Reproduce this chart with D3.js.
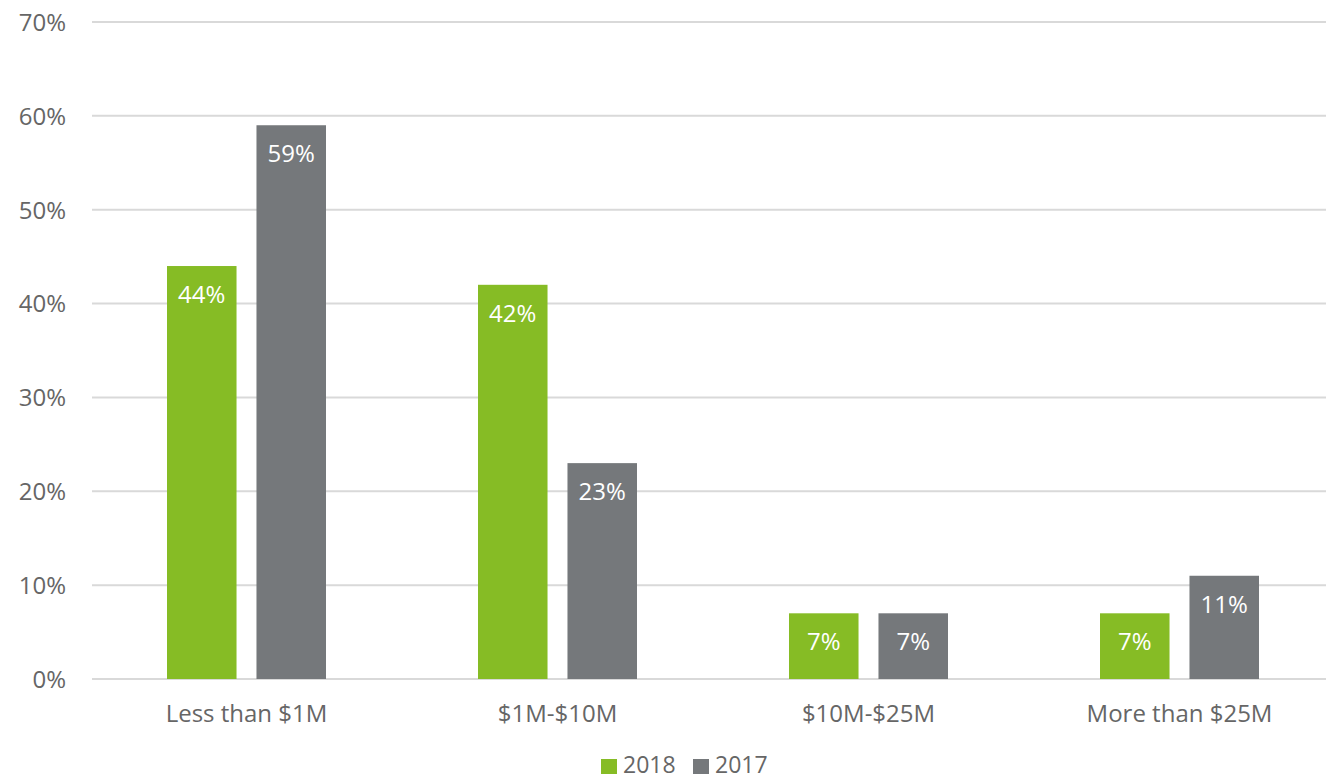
<!DOCTYPE html>
<html>
<head>
<meta charset="utf-8">
<script src="https://cdn.jsdelivr.net/npm/d3@7"></script>
<style>
  html, body { margin: 0; padding: 0; background: #fff; }
  svg { display: block; font-family: "Open Sans", sans-serif; }
</style>
</head>
<body>
<svg id="chart" width="1327" height="780"></svg>
<script>
// Revenue bands and share of respondents per year
const categories = ["Less than $1M", "$1M-$10M", "$10M-$25M", "More than $25M"];
const seriesNames = ["2018", "2017"];
const values2018 = [44, 42, 7, 7];
const values2017 = [59, 23, 7, 11];
const yTicks = [0, 10, 20, 30, 40, 50, 60, 70];
const colors = { "2018": "#86BC25", "2017": "#75787B" };

const svg = d3.select("#chart");
const fontSize = 24;

const x = d3.scaleBand().domain(categories).range([91, 1335]).paddingInner(0).paddingOuter(0);
const xSub = d3.scaleBand().domain(seriesNames).range([76, 235]).paddingInner(0.223);
const y = d3.scaleLinear().domain([0, 70]).range([679, 22]);

// Gridlines
svg.append("g")
  .selectAll("line")
  .data(yTicks)
  .join("line")
  .attr("x1", 92).attr("x2", 1326)
  .attr("y1", d => y(d)).attr("y2", d => y(d))
  .attr("stroke", "#d9d9d9")
  .attr("stroke-width", 2);

// Y axis labels
const yAxis = d3.axisLeft(y).tickValues(yTicks).tickFormat(d => d + "%").tickSize(0).tickPadding(0);
const yg = svg.append("g").attr("transform", "translate(66,0)").call(yAxis);
yg.select(".domain").remove();
yg.selectAll("text")
  .attr("font-family", "Open Sans, sans-serif")
  .attr("font-size", fontSize)
  .attr("fill", "#666")
  .attr("dy", "0.35em");

// X axis labels
const xAxis = d3.axisBottom(x).tickSize(0).tickPadding(0);
const xg = svg.append("g").attr("transform", "translate(0,722)").call(xAxis);
xg.select(".domain").remove();
xg.selectAll("text")
  .attr("font-family", "Open Sans, sans-serif")
  .attr("font-size", fontSize)
  .attr("fill", "#666")
  .attr("dy", 0)
  .attr("y", 0);

const rows = categories.map((c, i) => ({
  category: c,
  bars: [
    { series: "2018", value: values2018[i] },
    { series: "2017", value: values2017[i] }
  ]
}));

const groups = svg.append("g")
  .selectAll("g")
  .data(rows)
  .join("g")
  .attr("transform", d => `translate(${x(d.category)},0)`);

groups.selectAll("rect")
  .data(d => d.bars)
  .join("rect")
  .attr("x", d => xSub(d.series))
  .attr("width", xSub.bandwidth())
  .attr("y", d => y(d.value))
  .attr("height", d => y(0) - y(d.value))
  .attr("fill", d => colors[d.series]);

groups.selectAll("text")
  .data(d => d.bars)
  .join("text")
  .attr("x", d => xSub(d.series) + xSub.bandwidth() / 2)
  .attr("y", d => y(d.value) + 37)
  .attr("text-anchor", "middle")
  .attr("font-size", fontSize)
  .attr("fill", "#fff")
  .text(d => d.value + "%");

// Legend
const legend = svg.append("g").attr("transform", "translate(601,773)");
const legendX = { "2018": 0, "2017": 92 };
seriesNames.forEach(s => {
  const g = legend.append("g").attr("transform", `translate(${legendX[s]},0)`);
  g.append("rect").attr("x", 0).attr("y", -14).attr("width", 16).attr("height", 15).attr("fill", colors[s]);
  g.append("text").attr("x", 22).attr("y", 0).attr("font-size", 23).attr("fill", "#666").text(s);
});
</script>
</body>
</html>
